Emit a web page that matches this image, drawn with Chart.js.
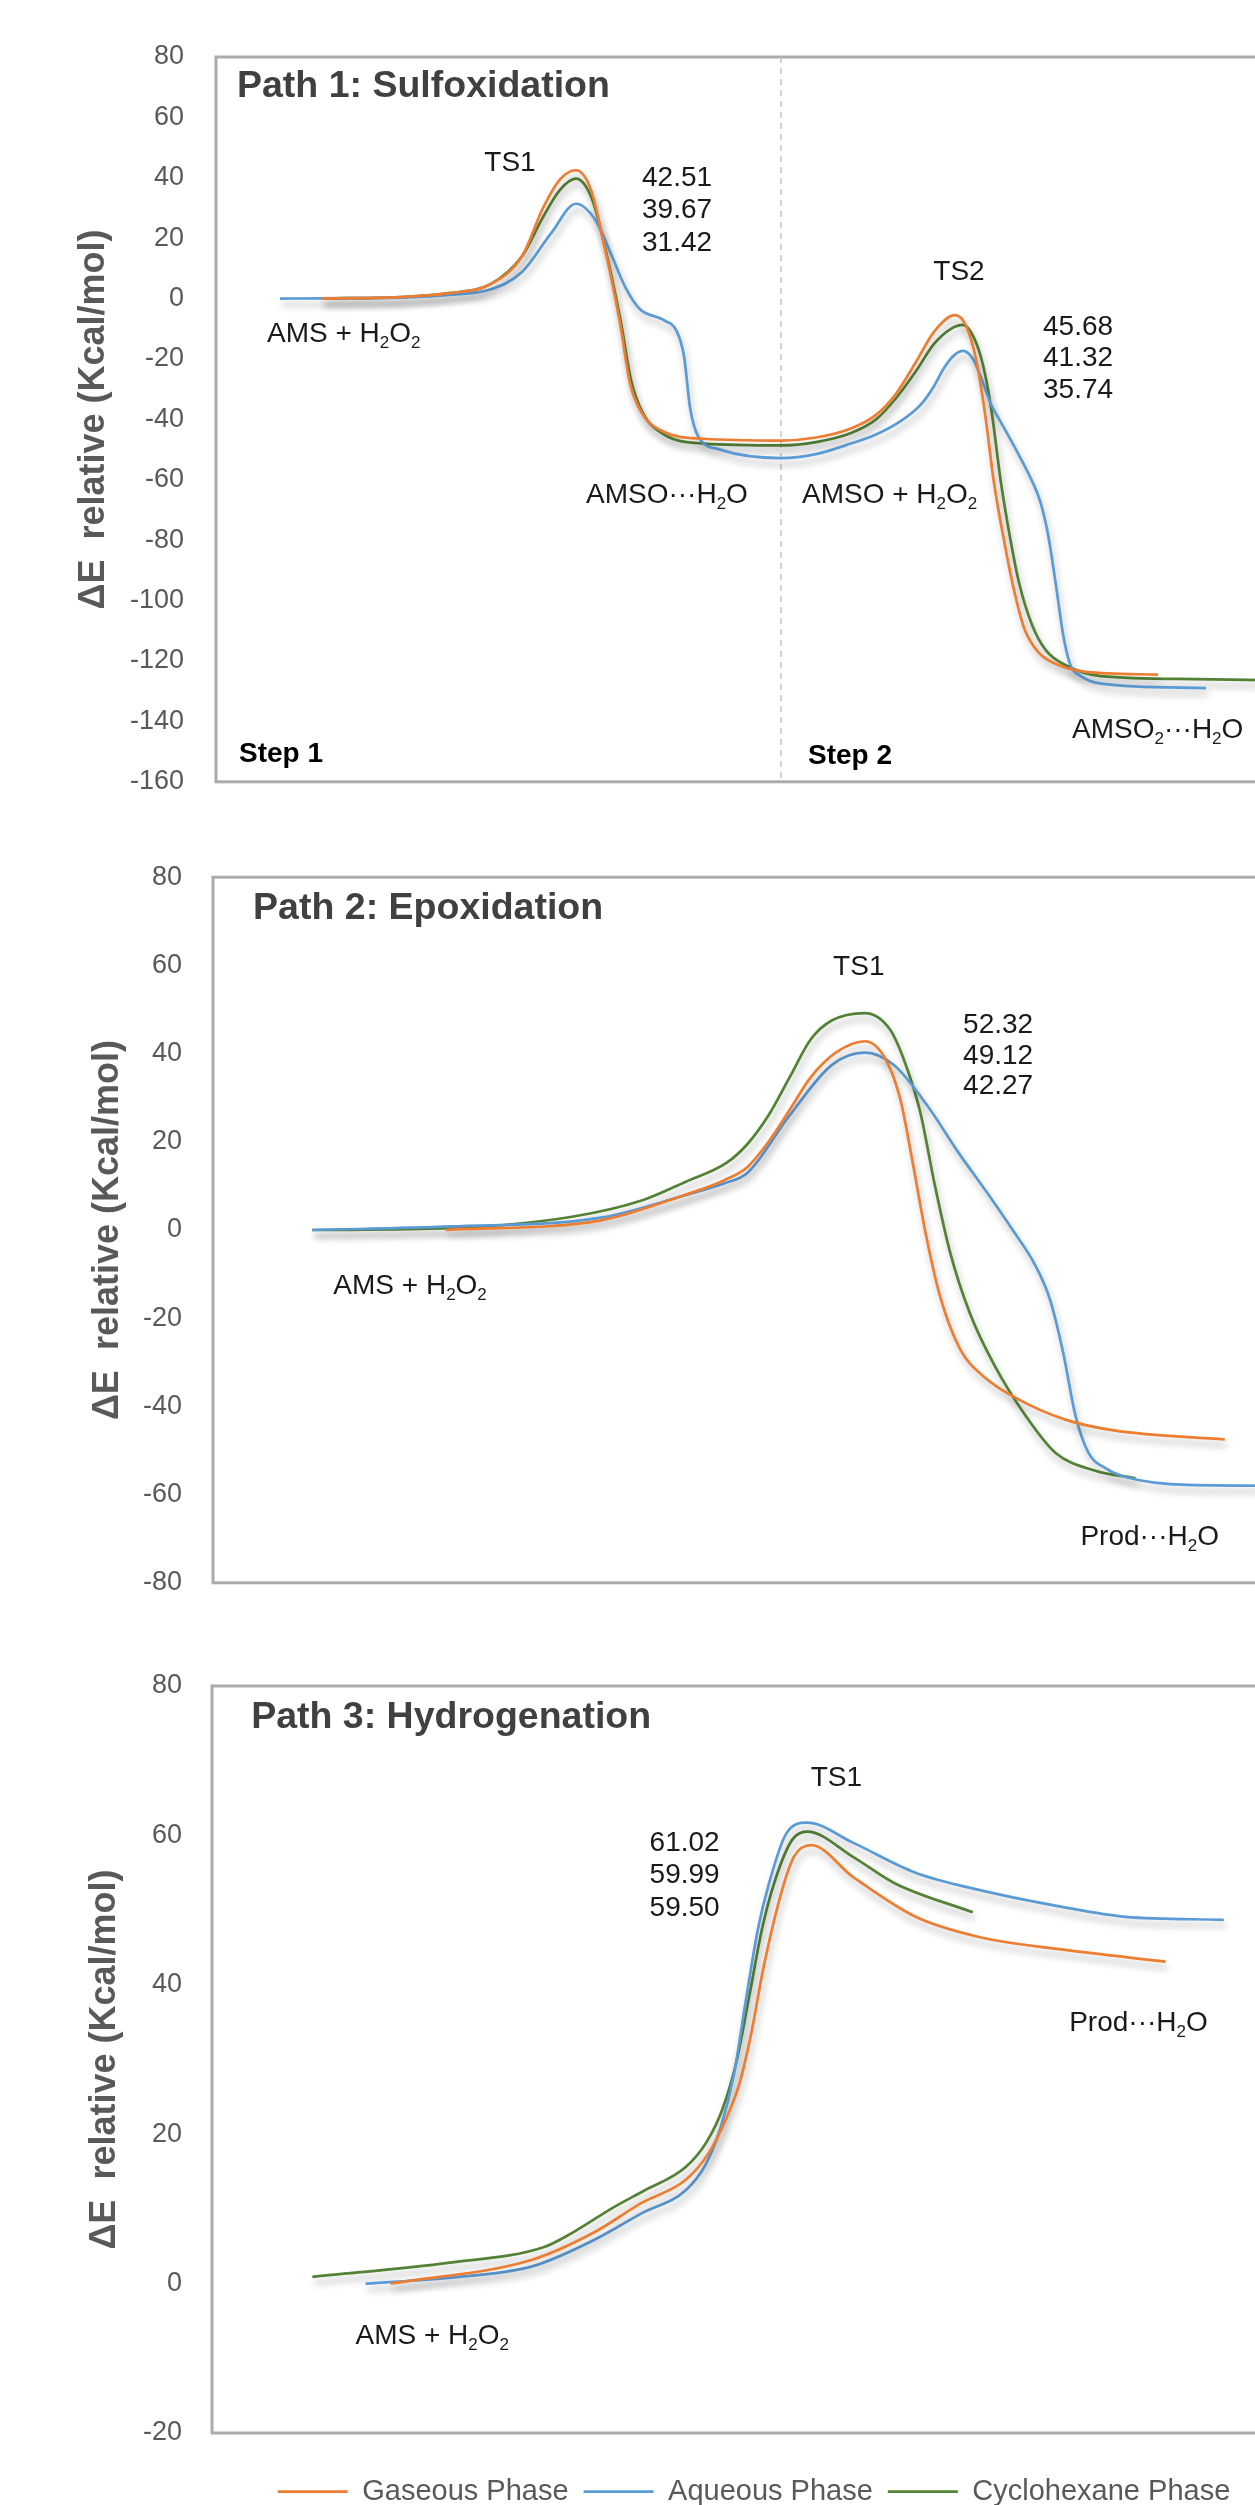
<!DOCTYPE html>
<html>
<head>
<meta charset="utf-8">
<script src="https://cdn.jsdelivr.net/npm/chart.js@4.4.1/dist/chart.umd.min.js"></script>
<style>
	html, body { margin: 0; padding: 0; background: #fff; width: 1255px; height: 2505px; overflow: hidden; }
	.panel { position: absolute; left: 0; width: 1300px; }
</style>
</head>
<body>
<div class="panel" style="top:0;height:830px"><canvas id="c1"></canvas></div>
<div class="panel" style="top:830px;height:800px"><canvas id="c2"></canvas></div>
<div class="panel" style="top:1630px;height:890px"><canvas id="c3"></canvas></div>
<script>
// reaction coordinate (arbitrary units) vs relative energy (kcal/mol)
const phases = ['Gaseous Phase', 'Aqueous Phase', 'Cyclohexane Phase'];

// Path 1: sulfoxidation (two steps)
const p1Gas = [[10.6,0],[19,0.6],[23.3,1.8],[27.4,4.7],[30.6,14],[32.7,30],[34.4,39.5],[36.0,42.5],[37.5,36],[38.8,18],[40.4,-8],[41.4,-28],[42.6,-38],[44.7,-44],[48.8,-46.4],[56.5,-47],[60,-46],[63.5,-43],[66,-38.5],[68,-31.5],[70,-21],[71.8,-11],[73.9,-5.5],[75.0,-9],[76.0,-20],[76.9,-38],[77.8,-61],[78.8,-80],[79.7,-95],[80.8,-109],[82.2,-117],[84.0,-121],[87,-123.6],[94.2,-124.5]];
const p1Aq = [[6.4,0],[10.6,0.1],[19,0.4],[23.3,1.2],[27.4,3],[30.6,8.8],[33.5,21.6],[36.0,31.4],[38.0,25.7],[39.6,14],[40.9,4],[42.4,-3.5],[44.7,-7],[46.1,-11],[46.8,-19],[47.4,-36],[48.2,-45.5],[50.4,-50],[56.5,-52.8],[60,-51.5],[63.5,-48],[66,-45],[68.5,-40.5],[70.5,-35],[71.8,-29],[72.8,-23],[73.8,-18.8],[74.7,-17.3],[75.7,-20],[76.6,-27],[77.5,-35],[78.5,-41],[80,-50],[81.4,-59],[82.4,-67],[83.2,-78],[84,-95],[84.7,-111],[85.4,-121],[86.5,-125],[88.5,-127.5],[99,-129]];
const p1Cyc = [[10.6,0],[19,0.6],[23.3,1.8],[27.4,4.7],[30.6,14],[32.7,27],[34.4,36],[36.0,39.7],[37.6,33],[38.9,17],[40.5,-8],[41.5,-27],[42.7,-38],[44.8,-45],[48.8,-48],[56.5,-48.6],[60,-47.5],[63.5,-44.5],[66,-40],[68,-33],[70,-24],[71.8,-15],[73.5,-10],[74.7,-8.7],[75.8,-13],[76.7,-22],[77.5,-36],[78.5,-61],[79.4,-79],[80.3,-94],[81.6,-108],[83,-116.5],[85,-121.5],[88.5,-125],[98,-126],[108,-126.5]];
const p1Ts1 = ['42.51', '39.67', '31.42'];
const p1Ts2 = ['45.68', '41.32', '35.74'];
const p1StepSplit = 56.5;

// Path 2: epoxidation
const p2Gas = [[23.2,0],[38.7,2.2],[47.1,8],[51,11.3],[53.3,14.3],[55.4,20],[57.5,27.2],[59.6,34.6],[62.1,40.2],[65.0,42.8],[67.0,39],[68.5,30],[69.8,15],[71.0,0],[72.5,-15],[74.5,-27],[77,-33.5],[80,-38],[85,-43],[90,-45.5],[100.9,-47.5]];
const p2Aq = [[9.9,0],[23.7,0.8],[38.7,2.8],[47.1,7.9],[51,10.6],[53.3,13],[57.5,26],[61.7,37.4],[65.0,40.2],[67.9,37.4],[71.3,28],[74.2,18],[77.5,7.5],[79.6,0.5],[82,-8],[83.5,-16],[84.8,-28],[86,-42],[87.3,-50.5],[89,-54],[91,-56],[97.2,-57.8],[108,-58]];
const p2Cyc = [[9.9,0],[23.6,0.4],[35.8,3],[42.9,6.8],[47.1,10.9],[51.2,15.2],[53.3,19.5],[55.4,26],[57.5,34.6],[59.6,43.2],[61.7,47.5],[65.0,49.2],[67.5,45.5],[69,38],[70.5,27],[72,10],[73.5,-5],[75.5,-19],[78,-31],[81,-42],[84,-50.5],[88.0,-54.6],[92.0,-56.3]];
const p2Ts1 = ['52.32', '49.12', '42.27'];

// Path 3: hydrogenation
const p3Gas = [[17.8,0],[31.9,3.2],[38.0,6.8],[42.8,10.8],[47.2,13.9],[49.5,17.5],[51.2,22],[52.6,27],[53.8,34],[54.9,42],[56.8,52.7],[58.0,57.2],[59.7,58.7],[63.9,54.4],[70.1,49.1],[76.4,46.4],[84.8,44.7],[95.0,43.1]];
const p3Aq = [[15.3,0],[23.8,0.8],[31.9,2.3],[38.0,5.8],[42.8,9.4],[47.2,12.5],[49.2,16],[50.7,21],[52.0,28],[53.2,38],[54.4,47.5],[55.5,53.6],[57.2,60.2],[59.3,61.7],[63.9,59],[70.1,55],[76.4,52.7],[84.8,50.4],[91.0,49.1],[100.8,48.7]];
const p3Cyc = [[10.0,0.9],[23.7,2.8],[33.1,4.9],[35.9,6.8],[40.0,10.2],[43.0,12.4],[47.2,15.6],[49.3,19],[50.9,23.5],[52.3,30],[53.6,39],[54.8,47.5],[56.1,54],[57.8,59.4],[59.3,60.5],[63.9,57.1],[68.0,53.6],[75.8,49.7]];
const p3Ts1 = ['61.02', '59.99', '59.50'];

const p1Range = [-160, 80];
const p2Range = [-80, 80];
const p3Range = [-20, 80];

const colors = ['#ED7D31', '#5B9BD5', '#548235'];
const FONT = "'Liberation Sans', Arial, sans-serif";
Chart.defaults.font.family = FONT;

function series(i, pts) {
	return {
		label: phases[i],
		data: pts.map(p => ({x: p[0], y: p[1]})),
		borderColor: colors[i],
		backgroundColor: colors[i],
		borderWidth: 2.7,
		pointRadius: 0,
		cubicInterpolationMode: 'monotone',
		shadow: true
	};
}

function stack(values, x, y, dy) {
	return values.map((v, i) => ({t: v, x: x, y: y - i * dy}));
}

// text with "_2" style subscripts
function drawRich(ctx, n, px, py) {
	const size = n.size || 28;
	const w = n.bold ? 'bold ' : '';
	const base = w + size + 'px ' + FONT;
	const sub = w + Math.round(size * 0.62) + 'px ' + FONT;
	const parts = [];
	for (let i = 0; i < n.t.length; i++) {
		if (n.t[i] === '_') { parts.push({s: n.t[i + 1], sub: true}); i++; }
		else if (parts.length && !parts[parts.length - 1].sub) parts[parts.length - 1].s += n.t[i];
		else parts.push({s: n.t[i], sub: false});
	}
	ctx.save();
	ctx.textBaseline = 'middle';
	ctx.textAlign = 'left';
	ctx.fillStyle = n.color || '#1a1a1a';
	let total = 0;
	parts.forEach(p => { ctx.font = p.sub ? sub : base; p.w = ctx.measureText(p.s).width; total += p.w; });
	let cx = n.align === 'center' ? px - total / 2 : px;
	parts.forEach(p => {
		ctx.font = p.sub ? sub : base;
		ctx.fillText(p.s, cx, p.sub ? py + size * 0.32 : py);
		cx += p.w;
	});
	ctx.restore();
}

function notesPlugin(items) {
	return {
		id: 'notes',
		afterDatasetsDraw(chart) {
			const xs = chart.scales.x, ys = chart.scales.y;
			items.forEach(n => drawRich(chart.ctx, n, xs.getPixelForValue(n.x), ys.getPixelForValue(n.y)));
		}
	};
}

const framePlugin = {
	id: 'frame',
	beforeDatasetsDraw(chart) {
		const a = chart.chartArea, ctx = chart.ctx;
		ctx.save();
		ctx.strokeStyle = '#ABABAB';
		ctx.lineWidth = 3;
		ctx.strokeRect(a.left, a.top, a.right - a.left, a.bottom - a.top);
		ctx.restore();
	}
};

const shadowPlugin = {
	id: 'shadow',
	beforeDatasetDraw(chart, args) {
		const ctx = chart.ctx;
		ctx.save();
		if (chart.data.datasets[args.index].shadow) {
			ctx.shadowColor = 'rgba(0,0,0,0.3)';
			ctx.shadowBlur = 7;
			ctx.shadowOffsetX = 2;
			ctx.shadowOffsetY = 6;
		}
	},
	afterDatasetDraw(chart) {
		chart.ctx.restore();
	}
};

function makePanel(id, sets, o) {
	const legend = o.legend ? {
		display: true,
		position: 'bottom',
		fullSize: false,
		labels: {
			usePointStyle: true, pointStyle: 'line', pointStyleWidth: 70,
			color: '#595959', font: {size: 29}, padding: 15,
			filter: item => phases.includes(item.text)
		},
		title: {display: true, text: '', padding: {top: 28, bottom: 0}, font: {size: 1}}
	} : {display: false};
	return new Chart(document.getElementById(id), {
		type: 'line',
		data: {datasets: sets},
		options: {
			responsive: true,
			maintainAspectRatio: false,
			animation: false,
			events: [],
			layout: {padding: {top: o.top, bottom: o.bottom, left: 0, right: 4}},
			scales: {
				x: {type: 'linear', min: 0, max: 108, display: false},
				y: {
					min: o.range[0], max: o.range[1],
					ticks: {stepSize: 20, padding: o.tickPad, color: '#595959', font: {size: 27}},
					grid: {display: false, drawTicks: false},
					border: {display: false},
					title: {display: true, text: 'ΔE  relative (Kcal/mol)', color: '#595959',
						font: {size: 36, weight: 'bold'}, padding: {top: o.titlePad, bottom: 0}},
					afterFit(s) { s.width = o.left; }
				}
			},
			plugins: {legend: legend, title: {display: false}, tooltip: {enabled: false}}
		},
		plugins: [framePlugin, shadowPlugin, notesPlugin(o.notes)]
	});
}

const titleStyle = {bold: true, size: 37.5, color: '#404040'};
const stepStyle = {bold: true, size: 28, color: '#000'};

const p1Notes = [
	Object.assign({t: 'Path 1: Sulfoxidation', x: 2.1, y: 70.1}, titleStyle),
	{t: 'TS1', x: 29.4, y: 44.9, align: 'center'},
	...stack(p1Ts1, 42.6, 39.8, 10.7),
	{t: 'AMS + H_2O_2', x: 5.1, y: -11.9},
	{t: 'TS2', x: 74.3, y: 8.8, align: 'center'},
	...stack(p1Ts2, 82.7, -9.4, 10.5),
	{t: 'AMSO\u00b7\u00b7\u00b7H_2O', x: 37.0, y: -65.2},
	{t: 'AMSO + H_2O_2', x: 58.6, y: -65.2},
	{t: 'AMSO_2\u00b7\u00b7\u00b7H_2O', x: 85.6, y: -142.8},
	Object.assign({t: 'Step 1', x: 2.3, y: -150.8}, stepStyle),
	Object.assign({t: 'Step 2', x: 59.2, y: -151.4}, stepStyle)
];

const p2Notes = [
	Object.assign({t: 'Path 2: Epoxidation', x: 4.0, y: 72.9}, titleStyle),
	{t: 'TS1', x: 64.4, y: 59.5, align: 'center'},
	...stack(p2Ts1, 74.8, 46.4, 6.9),
	{t: 'AMS + H_2O_2', x: 12.0, y: -12.8},
	{t: 'Prod\u00b7\u00b7\u00b7H_2O', x: 86.5, y: -69.7}
];

const p3Notes = [
	Object.assign({t: 'Path 3: Hydrogenation', x: 3.9, y: 75.7}, titleStyle),
	{t: 'TS1', x: 62.2, y: 67.7, align: 'center'},
	...stack(p3Ts1, 43.6, 59.0, 4.35),
	{t: 'Prod\u00b7\u00b7\u00b7H_2O', x: 85.4, y: 34.9},
	{t: 'AMS + H_2O_2', x: 14.3, y: -7.1}
];

const divider = {
	label: 'step divider',
	data: [{x: p1StepSplit, y: p1Range[1]}, {x: p1StepSplit, y: p1Range[0]}],
	borderColor: '#C4C4C4',
	borderWidth: 1.5,
	borderDash: [6, 5],
	pointRadius: 0,
	tension: 0
};

makePanel('c1', [series(0, p1Gas), series(1, p1Aq), series(2, p1Cyc), divider],
	{range: p1Range, top: 57, bottom: 21, left: 216, tickPad: 32, titlePad: 72, notes: p1Notes});
makePanel('c2', [series(0, p2Gas), series(1, p2Aq), series(2, p2Cyc)],
	{range: p2Range, top: 42, bottom: 15, left: 213, tickPad: 31, titlePad: 86, notes: p2Notes});
makePanel('c3', [series(0, p3Gas), series(1, p3Aq), series(2, p3Cyc)],
	{range: p3Range, top: 56, bottom: 3.8, left: 212, tickPad: 30, titlePad: 83, notes: p3Notes, legend: true});
</script>
</body>
</html>
